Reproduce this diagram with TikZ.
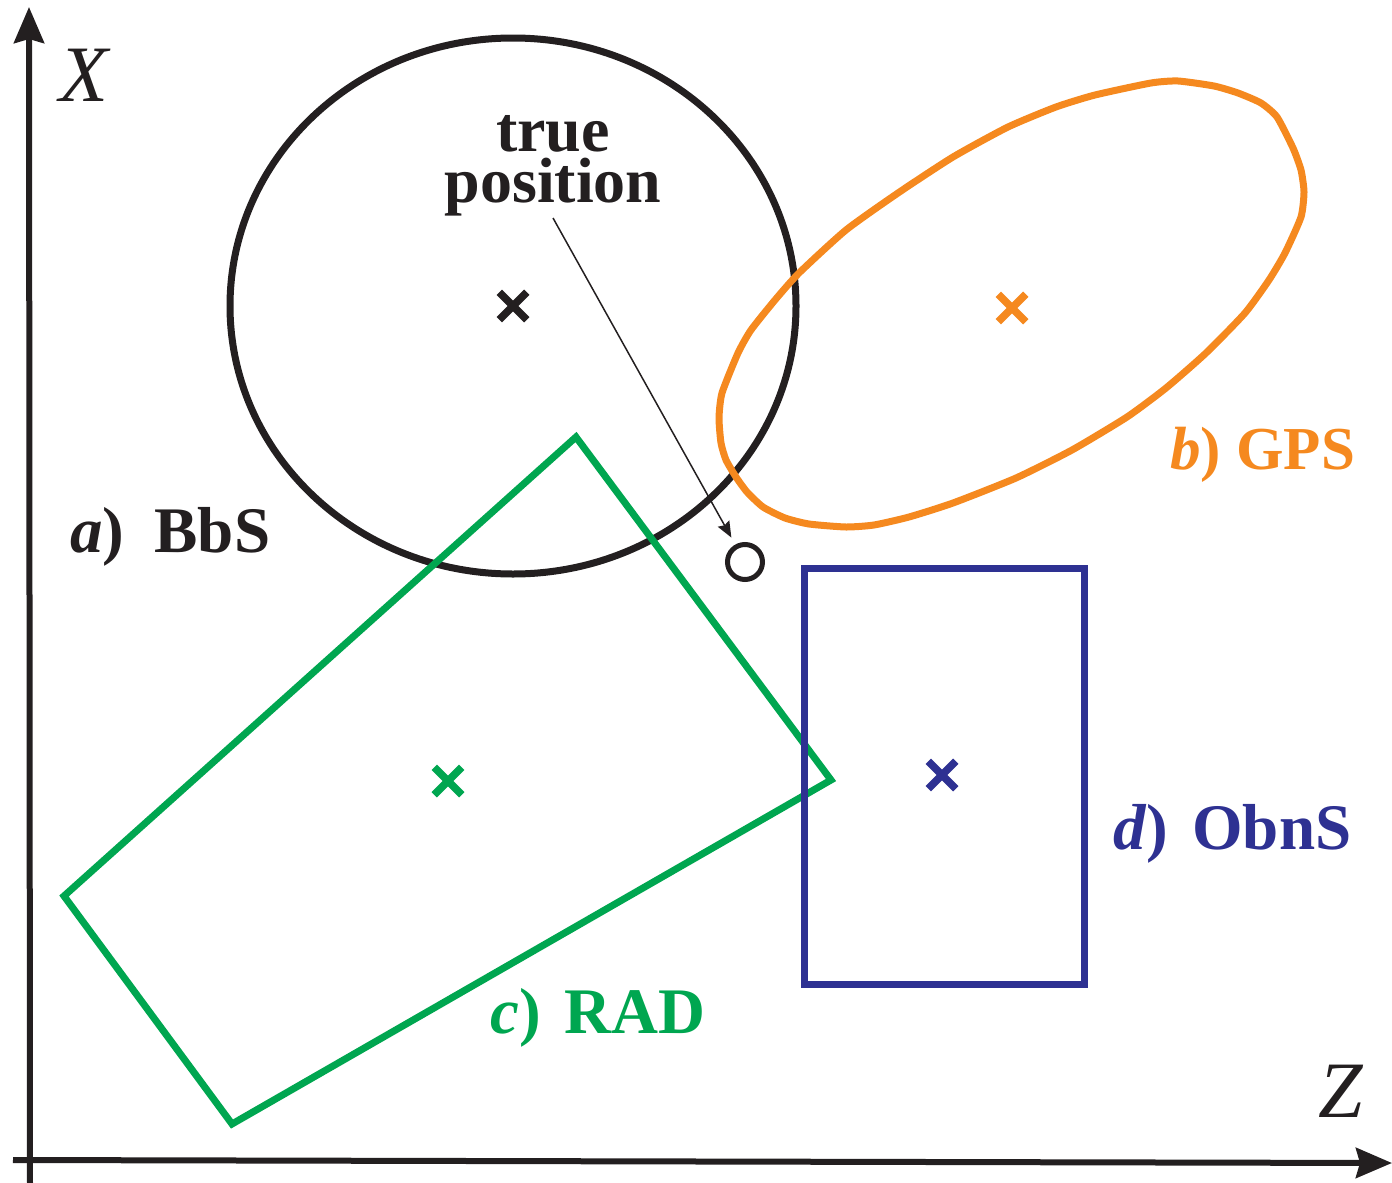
\documentclass[tikz,border=0pt]{standalone}
\usepackage{fontspec}
\setmainfont{Liberation Serif}
\usetikzlibrary{arrows.meta,shapes.misc}
\definecolor{cblack}{HTML}{231F20}
\definecolor{corange}{HTML}{F5891F}
\definecolor{cgreen}{HTML}{00A650}
\definecolor{cblue}{HTML}{2E3192}
\begin{document}
\begin{tikzpicture}[x=1pt,y=-1pt,
  axis/.style={draw=cblack, line width=6pt, -{Stealth[length=36pt,width=30pt,inset=4pt]}},
  region/.style={line width=7pt, line join=miter},
  lbl/.style={anchor=base west, inner sep=0pt, font=\fontsize{65}{65}\selectfont\bfseries},
  axlbl/.style={anchor=base, inner sep=0pt, font=\fontsize{80}{80}\selectfont\itshape, text=cblack},
  xmark/.style={cross out, draw, line width=7.5pt, minimum size=20pt, inner sep=0pt},
  pointer/.style={draw=cblack, line width=1.5pt, -{Stealth[length=16pt,width=13pt,inset=2pt]}, shorten >=8pt}
  ]
\useasboundingbox (0,0) rectangle (1392,1183);

% axes
\coordinate (o1) at (30,1183);
\coordinate (xtop) at (29,7);
\coordinate (o2) at (13,1160);
\coordinate (zend) at (1392,1163);
\draw[axis] (o1) -- (xtop);
\draw[axis] (o2) -- (zend);
\node[axlbl] (xl) at (84,101) {X};
\node[axlbl] (zl) at (1341,1117) {Z};

% a) BbS : black ellipse
\draw[region, draw=cblack] (513,306) ellipse [x radius=283pt, y radius=268pt];
\node[xmark, draw=cblack] (xa) at (513,306) {};

% b) GPS : orange closed curve
\draw[region, draw=corange] plot[smooth cycle, tension=0.35] coordinates {
  (1178,81) (1214,86) (1238,93) (1261,103) (1277,117) (1293,148) (1301,170)
  (1304,192) (1301,217) (1285,253) (1269,280) (1245,313) (1206,353) (1166,388)
  (1127,417) (1072,450) (1016,478) (953,503) (909,517) (874,525) (846,527)
  (809,524) (785,518) (763,507) (747,492) (736,477) (726,460) (721,443)
  (719,418) (722,393) (738,353) (751,330) (775,300) (799,273) (846,230)
  (898,193) (953,157) (1008,127) (1056,107) (1095,95) (1151,83)};
\node[xmark, draw=corange] (xb) at (1012,308) {};

% c) RAD : green quadrilateral
\draw[region, draw=cgreen] (576,437) -- (831,780) -- (232,1124) -- (64,896) -- cycle;
\node[xmark, draw=cgreen] (xc) at (448,781) {};

% d) ObnS : blue rectangle
\draw[region, draw=cblue] (804,568) rectangle (1084,984);
\node[xmark, draw=cblue] (xd) at (942,775) {};

% true position
\node[align=center, inner sep=0pt, font=\fontsize{64}{51}\selectfont\bfseries, text=cblack] (tp) at (553,166) {true\\position};
\node[circle, draw=cblack, line width=5pt, minimum size=35pt, inner sep=0pt] (tpos) at (745,562) {};
\coordinate (pstart) at (553,218);
\draw[pointer] (pstart) -- (tpos);

% labels
\node[lbl, text=cblack] (la) at (70,552) {\textit{a})\hspace{14pt} BbS};
\node[lbl, text=corange, font=\fontsize{61}{61}\selectfont\bfseries] (lb) at (1170,469) {\textit{b}) GPS};
\node[lbl, text=cgreen] (lc) at (490,1033) {\textit{c})\hspace{8pt} RAD};
\node[lbl, text=cblue] (ld) at (1113,849) {\textit{d})\hspace{8pt} ObnS};
\end{tikzpicture}
\end{document}
